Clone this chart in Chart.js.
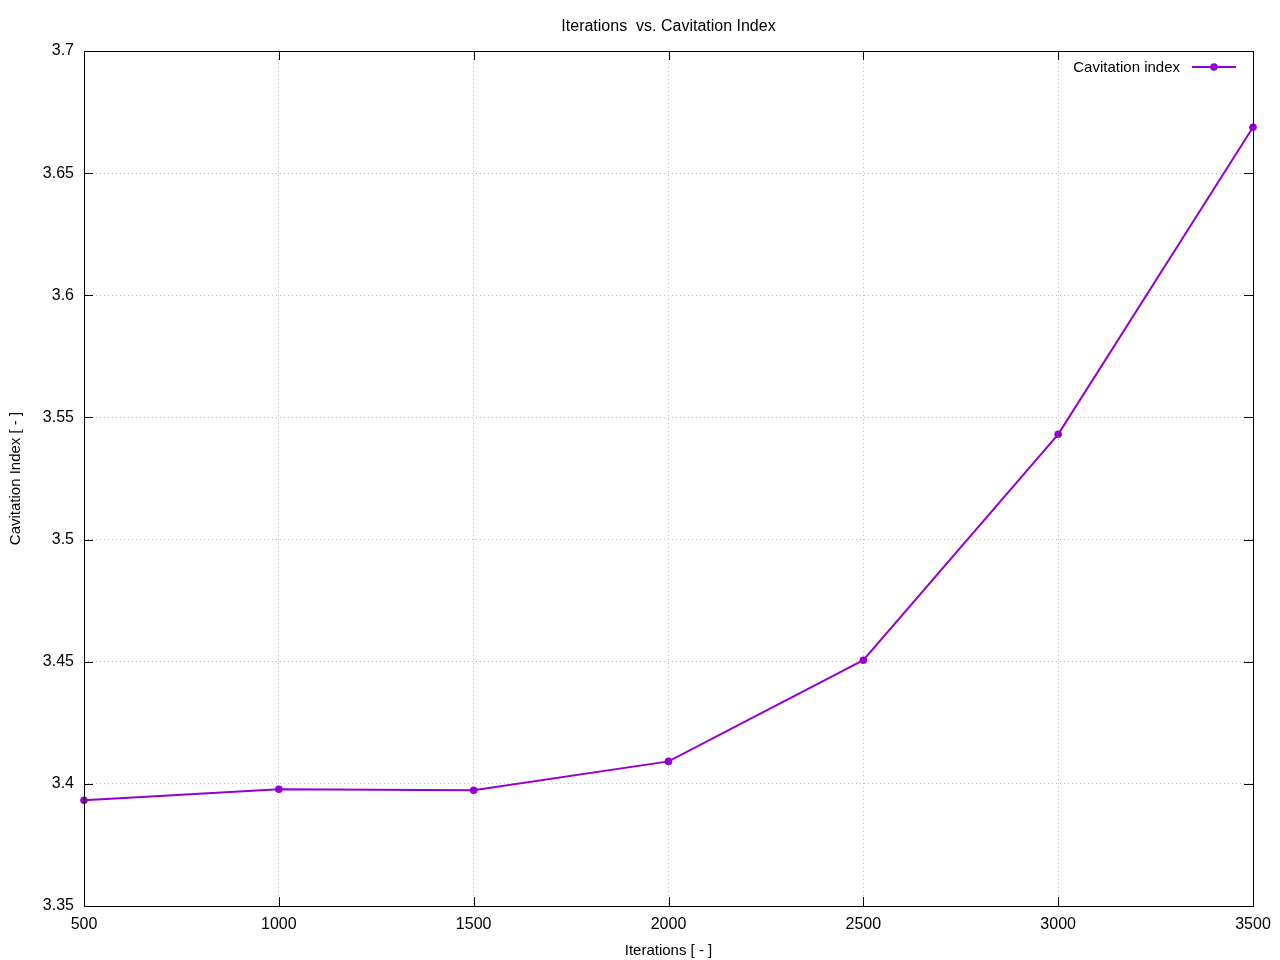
<!DOCTYPE html>
<html>
<head>
<meta charset="utf-8">
<script src="https://cdn.jsdelivr.net/npm/chart.js@4/dist/chart.umd.min.js"></script>
<style>
html,body{margin:0;padding:0;background:#fff;}
#wrap{width:1280px;height:960px;}
</style>
</head>
<body>
<div id="wrap"><canvas id="c" width="1280" height="960"></canvas></div>
<script>
const iterations = [500, 1000, 1500, 2000, 2500, 3000, 3500];
const cavitationIndex = [3.3933, 3.3978, 3.3974, 3.4092, 3.4506, 3.5431, 3.6688];
const seriesLabel = 'Cavitation index';
const chartTitle = 'Iterations  vs. Cavitation Index';
const xTitle = 'Iterations [ - ]';
const yTitle = 'Cavitation Index [ - ]';

const FONT = '"Liberation Sans", Arial, sans-serif';
const COLOR = '#9400d3';

const framePlugin = {
  id: 'frame',
  afterDatasetsDraw(chart) {
    const {ctx, chartArea: a, scales} = chart;
    ctx.save();
    ctx.strokeStyle = '#000';
    ctx.lineWidth = 1;
    ctx.strokeRect(Math.round(a.left) + 0.5, Math.round(a.top) + 0.5,
                   Math.round(a.right - a.left), Math.round(a.bottom - a.top));
    const tl = 9;
    ctx.beginPath();
    scales.x.ticks.forEach(t => {
      const px = Math.round(scales.x.getPixelForValue(t.value)) + 0.5;
      ctx.moveTo(px, a.bottom); ctx.lineTo(px, a.bottom - tl);
      ctx.moveTo(px, a.top); ctx.lineTo(px, a.top + tl);
    });
    scales.y.ticks.forEach(t => {
      const py = Math.round(scales.y.getPixelForValue(t.value)) + 0.5;
      ctx.moveTo(a.left, py); ctx.lineTo(a.left + tl, py);
      ctx.moveTo(a.right, py); ctx.lineTo(a.right - tl, py);
    });
    ctx.stroke();
    // legend
    const ds = chart.data.datasets[0];
    const ly = 67;
    ctx.font = '15px ' + FONT;
    ctx.fillStyle = '#000';
    ctx.textAlign = 'right';
    ctx.textBaseline = 'middle';
    ctx.fillText(ds.label, 1180, ly + 1);
    ctx.strokeStyle = COLOR;
    ctx.lineWidth = 2;
    ctx.beginPath();
    ctx.moveTo(1192, ly); ctx.lineTo(1236, ly);
    ctx.stroke();
    ctx.fillStyle = COLOR;
    ctx.beginPath();
    ctx.arc(1214, ly, 3.8, 0, Math.PI * 2);
    ctx.fill();
    ctx.restore();
  }
};

new Chart(document.getElementById('c'), {
  type: 'line',
  data: {
    datasets: [{
      label: seriesLabel,
      data: iterations.map((x, i) => ({x: x, y: cavitationIndex[i]})),
      borderColor: COLOR,
      backgroundColor: COLOR,
      borderWidth: 2,
      pointRadius: 3.8,
      pointHoverRadius: 3.8,
      pointBorderWidth: 0,
      tension: 0,
      fill: false,
      clip: 6
    }]
  },
  plugins: [framePlugin],
  options: {
    responsive: false,
    animation: false,
    events: [],
    layout: {padding: {left: 0, right: 27, top: 0, bottom: 0}},
    plugins: {
      legend: {display: false},
      tooltip: {enabled: false},
      title: {
        display: true,
        fullSize: false,
        text: chartTitle,
        color: '#000',
        font: {family: FONT, size: 16, weight: 'normal', lineHeight: 1.2},
        padding: {top: 17, bottom: 14.8}
      }
    },
    scales: {
      x: {
        type: 'linear',
        min: 500, max: 3500,
        afterFit(s) { s.height = 54; },
        ticks: {stepSize: 500, color: '#000', padding: 9,
                font: {family: FONT, size: 16}, maxRotation: 0,
                callback: v => String(v)},
        grid: {color: '#c0c0c0', drawTicks: false, lineWidth: 1},
        border: {display: false, dash: [1, 3]},
        title: {display: true, text: xTitle, color: '#000',
                font: {family: FONT, size: 15}, padding: {top: 0, bottom: 0}}
      },
      y: {
        type: 'linear',
        min: 3.35, max: 3.7,
        afterFit(s) { s.width = 84; },
        ticks: {stepSize: 0.05, color: '#000', padding: 10,
                font: {family: FONT, size: 16},
                callback: v => String(parseFloat(v.toFixed(2)))},
        grid: {color: '#c0c0c0', drawTicks: false, lineWidth: 1},
        border: {display: false, dash: [1, 3]},
        title: {display: true, text: yTitle, color: '#000',
                font: {family: FONT, size: 15}, padding: {top: 7, bottom: 0}}
      }
    }
  }
});
</script>
</body>
</html>
